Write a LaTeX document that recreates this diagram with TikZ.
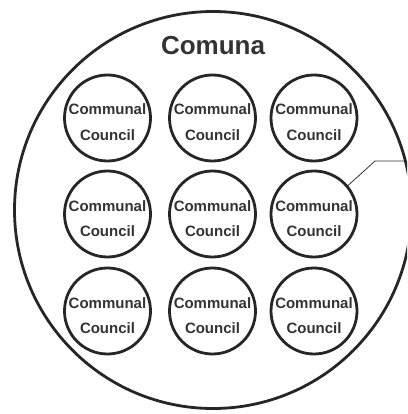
\documentclass[tikz,border=0pt]{standalone}
\usepackage{fontspec}
\setmainfont{Liberation Sans}
\begin{document}
\begin{tikzpicture}[x=1pt,y=-1pt,
  cc/.style={circle,draw=black!85,line width=2.8pt,minimum size=86pt,inner sep=0pt},
  lbl/.style={anchor=base,font=\fontsize{15}{18}\selectfont\bfseries,text=black!80,inner sep=0pt},
  title/.style={anchor=base,font=\fontsize{26}{30}\selectfont\bfseries,text=black!80,inner sep=0pt},
  link/.style={draw=black!80,line width=0.8pt}]
\useasboundingbox (0,0) rectangle (407,414);
\clip (0,0) rectangle (407,414);
\node[circle,draw=black!85,line width=2.8pt,minimum size=397pt,inner sep=0pt] (comuna) at (213,210) {};
\node[title] (t) at (213,55) {Comuna};
\foreach \r/\y in {1/118,2/214,3/311}{
  \foreach \c/\x in {1/107.5,2/212.5,3/314}{
    \node[cc] (c\r\c) at (\x,\y) {};
    \node[lbl] (a\r\c) at ([yshift=3pt]c\r\c.center) {Communal};
    \node[lbl] (b\r\c) at ([yshift=-22pt]c\r\c.center) {Council};
  }
}
\coordinate (k) at (375,161);
\coordinate (e) at (405,161);
\draw[link] (c23.40) -- (k) -- (e);
\end{tikzpicture}
\end{document}
